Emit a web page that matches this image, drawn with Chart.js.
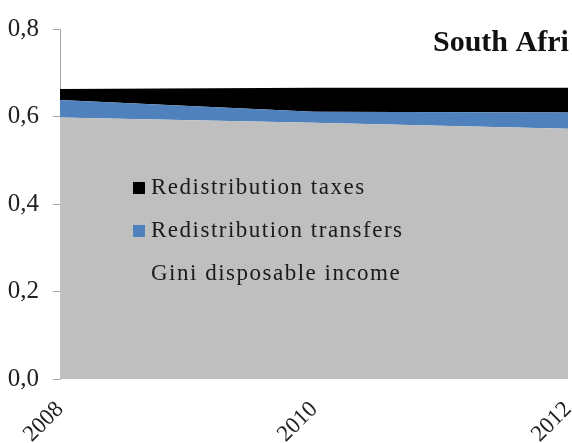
<!DOCTYPE html>
<html>
<head>
<meta charset="utf-8">
<script src="https://cdn.jsdelivr.net/npm/chart.js@4"></script>
<style>
  html, body { margin: 0; padding: 0; background: #fff; }
  #wrap { width: 572px; height: 443px; }
</style>
</head>
<body>
<div id="wrap"><canvas id="giniChart" width="572" height="443"></canvas></div>
<script>
// data
const years = ['2008', '2010', '2012'];
const giniDisposable = [0.598, 0.586, 0.572];
const redistTransfers = [0.040, 0.025, 0.037];
const redistTaxes = [0.025, 0.055, 0.057];
const yTicks = [0, 0.2, 0.4, 0.6, 0.8];
const chartTitle = 'South Afri';

const serif = "'Liberation Serif', 'DejaVu Serif', serif";

// legend drawn inside the plot, top series first
const insideLegend = {
  id: 'insideLegend',
  afterDraw(chart) {
    const ctx = chart.ctx;
    const sets = chart.data.datasets.slice().reverse();
    ctx.save();
    ctx.font = '23px ' + serif;
    ctx.letterSpacing = '1.5px';
    ctx.textBaseline = 'middle';
    let y = 188;
    sets.forEach(ds => {
      if (ds.showSwatch) {
        ctx.fillStyle = ds.backgroundColor;
        ctx.fillRect(133, y - 6, 12, 12);
      }
      ctx.fillStyle = '#1a1a1a';
      ctx.fillText(ds.label, 151, y);
      y += 43;
    });
    // title, cut at the right edge like the original
    ctx.letterSpacing = '0px';
    ctx.font = 'bold 30px ' + serif;
    ctx.textBaseline = 'alphabetic';
    ctx.fillStyle = '#111';
    ctx.fillText(chartTitle, 433, 51);
    ctx.restore();
  }
};

function renderChart() {
  const ctx = document.getElementById('giniChart').getContext('2d');
  new Chart(ctx, {
    type: 'line',
    data: {
      labels: years,
      datasets: [
        { label: 'Gini disposable income', data: giniDisposable, backgroundColor: '#bfbfbf', fill: 'origin', showSwatch: false },
        { label: 'Redistribution transfers', data: redistTransfers, backgroundColor: '#4f81bd', fill: '-1', showSwatch: true },
        { label: 'Redistribution taxes', data: redistTaxes, backgroundColor: '#000000', fill: '-1', showSwatch: true }
      ]
    },
    options: {
      responsive: false,
      animation: false,
      elements: {
        line: { borderWidth: 0, tension: 0 },
        point: { radius: 0 }
      },
      layout: { padding: { top: 28, right: 4, left: 0, bottom: 0 } },
      plugins: {
        legend: { display: false },
        tooltip: { enabled: false }
      },
      scales: {
        x: {
          offset: false,
          grid: { display: false, drawOnChartArea: false },
          border: { display: false },
          ticks: {
            color: '#222',
            font: { family: serif, size: 23 },
            minRotation: 45,
            maxRotation: 45,
            padding: 9
          },
          afterFit(scale) {
            scale.height = 64;
            scale.paddingLeft = 0;
            scale.paddingRight = 0;
          }
        },
        y: {
          stacked: true,
          min: 0,
          max: 0.8,
          afterBuildTicks(scale) {
            scale.ticks = yTicks.map(v => ({ value: v }));
          },
          grid: { drawOnChartArea: false, color: '#a6a6a6', tickLength: 7 },
          border: { display: true, color: '#a6a6a6', width: 1 },
          ticks: {
            color: '#222',
            font: { family: serif, size: 25 },
            padding: 14,
            callback: v => v.toFixed(1).replace('.', ',')
          },
          afterFit(scale) {
            scale.width = 60;
          }
        }
      }
    },
    plugins: [insideLegend]
  });
}

window.addEventListener('DOMContentLoaded', () => {
  renderChart();
});
</script>
</body>
</html>
